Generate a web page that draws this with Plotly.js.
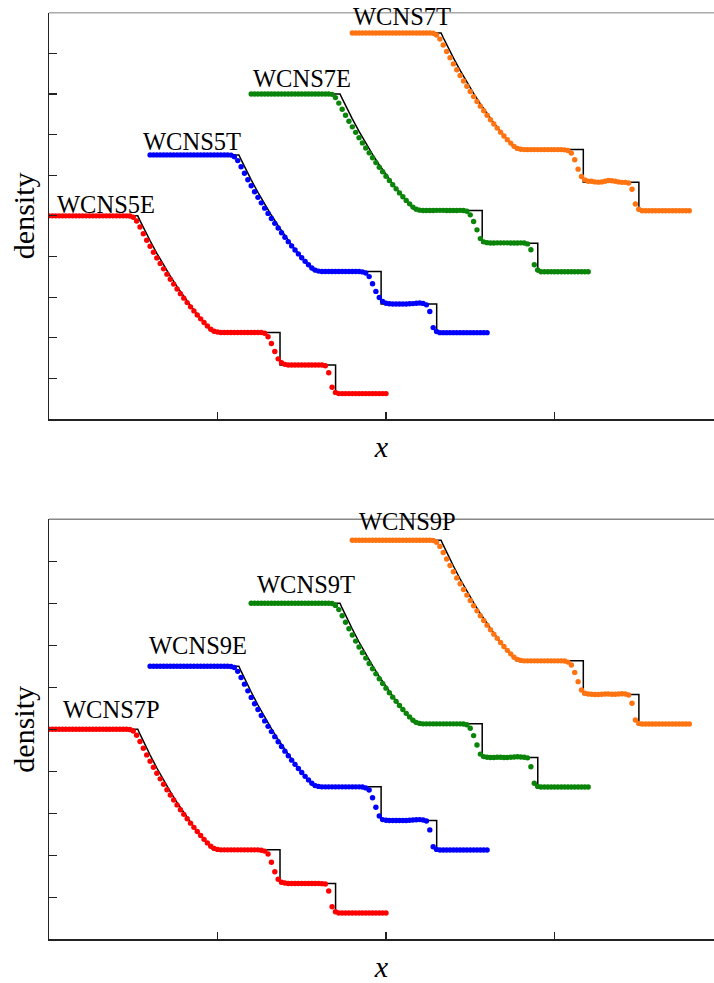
<!DOCTYPE html>
<html>
<head>
<meta charset="utf-8">
<script src="https://cdn.plot.ly/plotly-3.0.1.min.js"></script>
<style>html,body{margin:0;padding:0;background:#fff;}#plot{width:714px;height:983px;}</style>
</head>
<body>
<div id="plot"></div>
<script>
// grid points (x) shared by all numerical solutions
const xGrid = [
0,0.01,0.02,0.03,0.04,0.05,0.06,0.07,0.08,0.09,
0.10,0.11,0.12,0.13,0.14,0.15,0.16,0.17,0.18,0.19,
0.20,0.21,0.22,0.23,0.24,0.25,0.26,0.27,0.28,0.29,
0.30,0.31,0.32,0.33,0.34,0.35,0.36,0.37,0.38,0.39,
0.40,0.41,0.42,0.43,0.44,0.45,0.46,0.47,0.48,0.49,
0.50,0.51,0.52,0.53,0.54,0.55,0.56,0.57,0.58,0.59,
0.60,0.61,0.62,0.63,0.64,0.65,0.66,0.67,0.68,0.69,
0.70,0.71,0.72,0.73,0.74,0.75,0.76,0.77,0.78,0.79,
0.80,0.81,0.82,0.83,0.84,0.85,0.86,0.87,0.88,0.89,
0.90,0.91,0.92,0.93,0.94,0.95,0.96,0.97,0.98,0.99,
1.00];

// exact solution
const exactX = [0,0.2634,0.27,0.28,0.29,0.30,0.32,0.34,0.36,0.38,0.40,0.42,0.44,0.46,0.48,0.4859,0.6855,0.6855,0.8504,0.8504,1.0];
const exactRho = [1,1,0.9767,0.9426,0.9095,0.8775,0.8157,0.7576,0.7028,0.6513,0.6029,0.5573,0.5145,0.4745,0.4369,0.4263,0.4263,0.2656,0.2656,0.125,0.125];

// numerical densities, top panel
const rhoWCNS5E = [
1,1,1,1,1,1,1,1,1,1,1,1,1,1,1,1,1,1,1,1,1,1,1,1,
0.999,0.993,0.975,0.945,0.912,0.880,0.850,0.821,0.793,0.766,0.739,0.713,0.688,0.664,0.640,0.617,0.595,0.573,0.552,0.532,0.512,0.493,0.475,0.458,0.442,0.432,0.428,
0.426,0.426,0.426,0.426,0.426,0.426,0.426,0.426,0.426,0.426,0.426,0.426,0.426,
0.422,0.405,0.372,0.332,0.296,0.277,0.269,
0.266,0.266,0.266,0.266,0.266,0.266,0.266,0.266,0.266,0.266,0.266,
0.262,0.228,0.156,0.131,
0.125,0.125,0.125,0.125,0.125,0.125,0.125,0.125,0.125,0.125,0.125,0.125,0.125,0.125,0.125];
const rhoWCNS5T = [
1,1,1,1,1,1,1,1,1,1,1,1,1,1,1,1,1,1,1,1,1,1,1,1,
0.999,0.991,0.972,0.942,0.910,0.878,0.848,0.819,0.791,0.764,0.738,0.712,0.687,0.663,0.640,0.617,0.595,0.573,0.552,0.532,0.513,0.494,0.476,0.459,0.443,0.433,0.428,
0.426,0.426,0.426,0.426,0.426,0.426,0.426,0.426,0.426,0.426,0.426,0.426,0.424,
0.419,0.401,0.366,0.328,0.298,0.279,0.270,
0.267,0.266,0.266,0.266,0.266,0.266,0.267,0.268,0.270,0.271,0.269,
0.262,0.229,0.150,0.131,
0.125,0.125,0.125,0.125,0.125,0.125,0.125,0.125,0.125,0.125,0.125,0.125,0.125,0.125,0.125];
const rhoWCNS7E = [
1,1,1,1,1,1,1,1,1,1,1,1,1,1,1,1,1,1,1,1,1,1,1,1,
0.998,0.982,0.955,0.925,0.895,0.866,0.838,0.811,0.785,0.759,0.734,0.710,0.686,0.662,0.639,0.617,0.595,0.574,0.553,0.533,0.513,0.494,0.476,0.459,0.443,0.433,0.428,
0.426,0.426,0.426,0.426,0.427,0.427,0.427,0.426,0.426,0.426,0.426,0.427,0.426,
0.423,0.405,0.372,0.331,0.288,0.272,0.268,
0.266,0.266,0.267,0.267,0.267,0.267,0.266,0.266,0.266,0.267,0.266,
0.262,0.233,0.159,0.134,
0.125,0.125,0.125,0.125,0.125,0.125,0.125,0.125,0.125,0.125,0.125,0.125,0.125,0.125,0.125];
const rhoWCNS7T = [
1,1,1,1,1,1,1,1,1,1,1,1,1,1,1,1,1,1,1,1,1,1,1,1,
0.999,0.990,0.970,0.941,0.909,0.878,0.848,0.819,0.791,0.764,0.738,0.712,0.687,0.663,0.640,0.617,0.595,0.573,0.552,0.532,0.512,0.493,0.475,0.458,0.442,0.432,0.428,
0.426,0.426,0.426,0.426,0.426,0.426,0.426,0.426,0.426,0.426,0.426,0.426,0.425,
0.422,0.409,0.376,0.330,0.294,0.277,0.270,
0.270,0.267,0.266,0.267,0.270,0.274,0.273,0.270,0.267,0.265,0.265,
0.262,0.231,0.158,0.133,
0.125,0.125,0.125,0.125,0.125,0.125,0.125,0.125,0.125,0.125,0.125,0.125,0.125,0.125,0.125];

// numerical densities, bottom panel
const rhoWCNS7P = [
1,1,1,1,1,1,1,1,1,1,1,1,1,1,1,1,1,1,1,1,1,1,1,1,
0.999,0.992,0.972,0.942,0.910,0.878,0.848,0.819,0.791,0.764,0.738,0.712,0.687,0.663,0.640,0.617,0.595,0.574,0.553,0.533,0.513,0.494,0.476,0.459,0.443,0.433,0.428,
0.426,0.426,0.426,0.426,0.426,0.426,0.426,0.426,0.426,0.426,0.426,0.426,0.424,
0.420,0.406,0.367,0.322,0.286,0.272,0.268,
0.266,0.266,0.266,0.266,0.266,0.266,0.266,0.266,0.266,0.266,0.265,
0.263,0.230,0.155,0.131,
0.125,0.125,0.125,0.125,0.125,0.125,0.125,0.125,0.125,0.125,0.125,0.125,0.125,0.125,0.125];
const rhoWCNS9E = [
1,1,1,1,1,1,1,1,1,1,1,1,1,1,1,1,1,1,1,1,1,1,1,1,
0.999,0.994,0.976,0.947,0.915,0.883,0.852,0.822,0.794,0.766,0.740,0.714,0.689,0.665,0.641,0.618,0.596,0.574,0.553,0.533,0.513,0.494,0.476,0.459,0.443,0.432,0.428,
0.426,0.426,0.426,0.426,0.426,0.426,0.426,0.426,0.426,0.426,0.426,0.426,0.425,
0.421,0.411,0.374,0.329,0.287,0.270,0.267,
0.266,0.266,0.266,0.266,0.266,0.266,0.267,0.268,0.269,0.270,0.268,
0.263,0.221,0.141,0.128,
0.125,0.125,0.125,0.125,0.125,0.125,0.125,0.125,0.125,0.125,0.125,0.125,0.125,0.125,0.125];
const rhoWCNS9T = [
1,1,1,1,1,1,1,1,1,1,1,1,1,1,1,1,1,1,1,1,1,1,1,1,
0.999,0.990,0.970,0.941,0.910,0.879,0.849,0.820,0.792,0.765,0.739,0.713,0.688,0.664,0.641,0.618,0.596,0.574,0.553,0.533,0.513,0.494,0.476,0.459,0.443,0.433,0.428,
0.426,0.426,0.426,0.426,0.426,0.426,0.426,0.426,0.426,0.426,0.426,0.426,0.425,
0.422,0.405,0.370,0.325,0.282,0.270,0.267,
0.266,0.266,0.267,0.267,0.266,0.266,0.267,0.268,0.269,0.268,0.267,
0.264,0.222,0.143,0.128,
0.125,0.125,0.125,0.125,0.125,0.125,0.125,0.125,0.125,0.125,0.125,0.125,0.125,0.125,0.125];
const rhoWCNS9P = [
1,1,1,1,1,1,1,1,1,1,1,1,1,1,1,1,1,1,1,1,1,1,1,1,
0.999,0.991,0.971,0.942,0.911,0.880,0.850,0.821,0.793,0.766,0.739,0.713,0.688,0.664,0.641,0.618,0.596,0.574,0.553,0.533,0.513,0.494,0.476,0.459,0.443,0.433,0.428,
0.426,0.426,0.426,0.426,0.426,0.426,0.426,0.426,0.426,0.426,0.426,0.426,0.425,
0.420,0.406,0.371,0.327,0.287,0.272,0.268,
0.267,0.266,0.266,0.267,0.268,0.268,0.267,0.267,0.268,0.269,0.268,
0.263,0.224,0.144,0.128,
0.125,0.125,0.125,0.125,0.125,0.125,0.125,0.125,0.125,0.125,0.125,0.125,0.125,0.125,0.125];

const topNames = ['WCNS5E','WCNS5T','WCNS7E','WCNS7T'];
const topRho = [rhoWCNS5E, rhoWCNS5T, rhoWCNS7E, rhoWCNS7T];
const botNames = ['WCNS7P','WCNS9E','WCNS9T','WCNS9P'];
const botRho = [rhoWCNS7P, rhoWCNS9E, rhoWCNS9T, rhoWCNS9P];
const xOffset = [0, 0.3, 0.6, 0.9];
const yOffset = [0, 0.3, 0.6, 0.9];
const colors = ['#ff0000', '#0000ff', '#0a850a', '#ff7310'];

// label anchor positions (data units)
const topLabelX = [0.018, 0.274, 0.598, 0.897];
const topLabelY = [1.058, 1.366, 1.674, 1.982];
const botLabelX = [0.036, 0.290, 0.612, 0.914];
const botLabelY = [1.096, 1.398, 1.691, 1.989];

const SERIF = '"Liberation Serif", "Times New Roman", serif';
const traces = [];
const annotations = [];

function addPanel(rhos, names, lx, ly, xa, ya) {
  for (let k = 0; k < 4; k++) {
    traces.push({
      x: exactX.map(v => v + xOffset[k]),
      y: exactRho.map(v => v + yOffset[k]),
      xaxis: xa, yaxis: ya, mode: 'lines', type: 'scatter',
      line: {color: '#000', width: 1.5}, hoverinfo: 'skip', name: 'exact'
    });
  }
  for (let k = 0; k < 4; k++) {
    traces.push({
      x: xGrid.map(v => v + xOffset[k]),
      y: rhos[k].map(v => v + yOffset[k]),
      xaxis: xa, yaxis: ya, mode: 'markers', type: 'scatter', name: names[k],
      marker: {color: colors[k], size: 5.4}
    });
    annotations.push({
      x: lx[k], y: ly[k], xref: xa, yref: ya, text: names[k], showarrow: false,
      xanchor: 'left', yanchor: 'middle', font: {family: SERIF, size: 24.5, color: '#000'}
    });
  }
}
addPanel(topRho, topNames, topLabelX, topLabelY, 'x', 'y');
addPanel(botRho, botNames, botLabelX, botLabelY, 'x2', 'y2');

const xRange = [0, 665/337];
const xCommon = {
  range: xRange, domain: [49/714, 1], showline: true, linecolor: '#222', linewidth: 1.5,
  ticks: 'inside', ticklen: 7, tickwidth: 1.2, tickcolor: '#222', tick0: 0, dtick: 0.5,
  showticklabels: false, showgrid: false, zeroline: false,
  title: {text: '<i>x</i>', font: {family: SERIF, size: 30, color: '#000'}, standoff: 16}
};
const yCommon = {
  range: [0, 2], showline: true, linecolor: '#222', linewidth: 1.5,
  ticks: 'inside', ticklen: 8, tickwidth: 1.2, tickcolor: '#222', tick0: 0, dtick: 0.2,
  showticklabels: false, showgrid: false, zeroline: false,
  title: {text: 'density', font: {family: SERIF, size: 30, color: '#000'}, standoff: 4}
};
const topDom = [1 - 419/983, 1 - 12.7/983];
const botDom = [1 - 939.3/983, 1 - 519.3/983];

const layout = {
  width: 714, height: 983, margin: {l: 0, r: 0, t: 0, b: 0},
  paper_bgcolor: '#fff', plot_bgcolor: '#fff', showlegend: false,
  xaxis: Object.assign({}, xCommon, {anchor: 'y'}),
  yaxis: Object.assign({}, yCommon, {domain: topDom, anchor: 'x'}),
  xaxis2: Object.assign({}, xCommon, {anchor: 'y2'}),
  yaxis2: Object.assign({}, yCommon, {domain: botDom, anchor: 'x2'}),
  annotations: annotations,
  shapes: [
    {type: 'line', xref: 'paper', yref: 'paper', x0: 49/714, x1: 1, y0: topDom[1], y1: topDom[1], line: {color: '#aaa', width: 1.5}},
    {type: 'line', xref: 'paper', yref: 'paper', x0: 49/714, x1: 1, y0: botDom[1], y1: botDom[1], line: {color: '#888', width: 1.5}}
  ]
};

Plotly.newPlot('plot', traces, layout, {staticPlot: true, displayModeBar: false});
</script>
</body>
</html>
